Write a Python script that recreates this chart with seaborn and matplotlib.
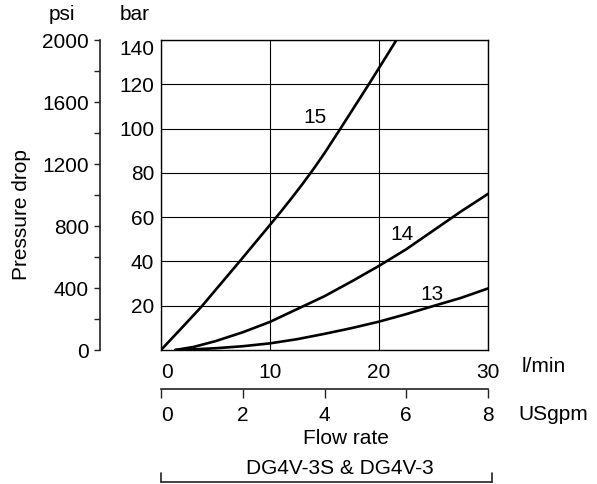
import matplotlib
matplotlib.use('Agg')
import matplotlib.pyplot as plt
import seaborn as sns
import pandas as pd

# curvas (caudal l/min, caida de presion bar)
flow_15 = [0, 2, 3.7, 5.5, 7.25, 8.7, 10, 11, 12, 13, 14, 15, 16.4, 17.7, 19.0, 20.3, 21.6]
bar_15 = [0, 10.5, 19.5, 30, 40.2, 48.8, 56.5, 62.5, 68.7, 75.1, 81.8, 88.9, 99.5, 109.5, 119.5, 129.7, 140]
flow_14 = [1.3, 3, 5, 7.5, 10, 12.5, 15, 17.5, 20, 22.5, 25, 27.5, 30]
bar_14 = [0, 1.4, 4, 8, 12.7, 18.5, 24.3, 31, 38, 45.5, 54, 62.5, 70.5]
flow_13 = [1.3, 3, 5, 7.5, 10, 12.5, 15, 17.5, 20, 22.5, 24.8, 27.5, 30]
bar_13 = [0, 0.3, 0.8, 1.7, 3.0, 4.9, 7.3, 9.9, 12.8, 16.2, 19.6, 23.5, 27.8]

curve_names = ['15', '14', '13']
label_pos = {'15': (14.1, 105), '14': (22.15, 52.2), '13': (24.9, 25.2)}

lpm_ticks = [0, 10, 20, 30]
bar_ticks = [20, 40, 60, 80, 100, 120, 140]
psi_ticks = [0, 400, 800, 1200, 1600, 2000]
psi_minor = [200, 600, 1000, 1400, 1800]
gpm_ticks = [0, 2, 4, 6, 8]

df = pd.concat([
    pd.DataFrame({'flow': flow_15, 'bar': bar_15, 'curve': '15'}),
    pd.DataFrame({'flow': flow_14, 'bar': bar_14, 'curve': '14'}),
    pd.DataFrame({'flow': flow_13, 'bar': bar_13, 'curve': '13'}),
])

sns.set_style('white')
plt.rcParams['font.family'] = ['Liberation Sans', 'DejaVu Sans']
plt.rcParams['font.size'] = 15
for k in ['text.color', 'axes.labelcolor', 'xtick.color', 'ytick.color']:
    plt.rcParams[k] = 'black'

W, H = 597, 484
fig = plt.figure(figsize=(W / 100, H / 100), dpi=100)

# grafico principal
ax = fig.add_axes([161 / W, 134 / H, 327 / W, 310 / H])
sns.lineplot(data=df, x='flow', y='bar', hue='curve', palette=['black'] * 3,
             linewidth=1.9, legend=False, ax=ax, sort=False, estimator=None)
ax.set_xlim(0, 30)
ax.set_ylim(0, 140)
ax.set_xticks(lpm_ticks)
ax.set_yticks(bar_ticks)
ax.grid(True, color='black', linewidth=0.8)
ax.tick_params(axis='both', length=0)
ax.tick_params(axis='x', pad=9)
ax.tick_params(axis='y', pad=5)
ax.get_yticklabels()[-1].set_va('top')
ax.get_xticklabels()[0].set_ha('left')
ax.set_xlabel('')
ax.set_ylabel('')
for s in ax.spines.values():
    s.set_color('black')
    s.set_linewidth(1.0)
for name in curve_names:
    x, y = label_pos[name]
    ax.text(x, y, name, ha='center', va='center')

# eje psi
ax_psi = fig.add_axes([100 / W, 134 / H, 0.0001, 310 / H])
ax_psi.set_ylim(0, 2000)
ax_psi.set_yticks(psi_ticks)
ax_psi.set_yticks(psi_minor, minor=True)
ax_psi.tick_params(axis='y', which='both', left=True, direction='out',
                   length=4.5, width=1, pad=3.5, color='#222222')
ax_psi.set_xticks([])
ax_psi.patch.set_visible(False)
for k in ['top', 'right', 'bottom']:
    ax_psi.spines[k].set_visible(False)
ax_psi.spines['left'].set_color('#222222')
ax_psi.spines['left'].set_linewidth(1.2)

# eje USgpm
ax_gpm = fig.add_axes([161 / W, 95 / H, 327 / W, 0.0001])
ax_gpm.set_xlim(0, 8)
ax_gpm.set_xticks(gpm_ticks)
ax_gpm.set_yticks([])
ax_gpm.tick_params(axis='x', bottom=True, direction='out', length=6.5,
                   width=1, pad=5.5, color='#222222')
ax_gpm.get_xticklabels()[0].set_ha('left')
ax_gpm.patch.set_visible(False)
for k in ['top', 'right', 'left']:
    ax_gpm.spines[k].set_visible(False)
ax_gpm.spines['bottom'].set_color('#222222')
ax_gpm.spines['bottom'].set_linewidth(1.2)

# textos
fig.text(62 / W, 1 - 15 / H, 'psi', ha='center', va='center')
fig.text(135 / W, 1 - 15 / H, 'bar', ha='center', va='center')
fig.text(22 / W, 1 - 215 / H, 'Pressure drop', ha='center', va='center', rotation=90)
fig.text(522 / W, 1 - 367 / H, 'l/min', ha='left', va='center')
fig.text(518 / W, 1 - 415 / H, 'USgpm', ha='left', va='center')
fig.text(346 / W, 1 - 438 / H, 'Flow rate', ha='center', va='center')
fig.text(340 / W, 1 - 468 / H, 'DG4V-3S & DG4V-3', ha='center', va='center')

# corchete inferior
yb = 1 - 481.5 / H
fig.add_artist(plt.Line2D([161 / W, 492 / W], [yb, yb], color='#222222', lw=1.2))
for xe in [161, 492]:
    fig.add_artist(plt.Line2D([xe / W, xe / W], [yb, 1 - 473 / H], color='#222222', lw=1.2))

plt.savefig('out.png', dpi=100)
